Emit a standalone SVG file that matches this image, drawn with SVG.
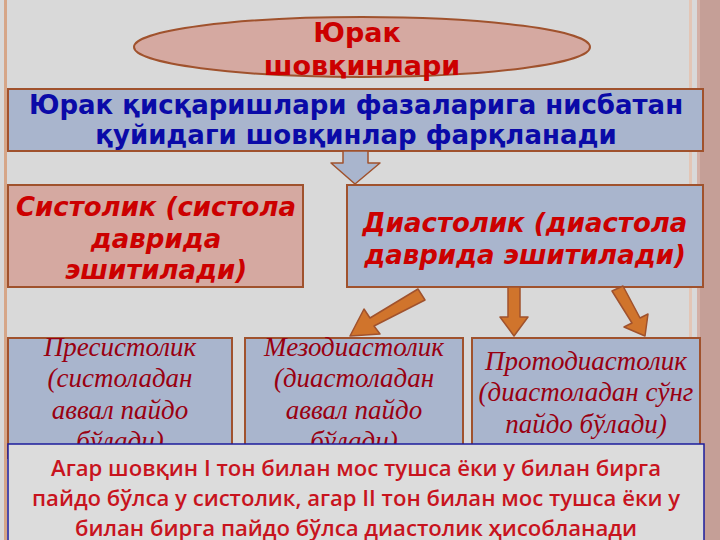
<svg xmlns="http://www.w3.org/2000/svg" width="720" height="540" viewBox="0 0 720 540">
<style>
.bx{stroke:#a0522d;stroke-width:2}
.blue{fill:#a9b5cd}
.rose{fill:#d5a9a1}
.t1{font-family:"DejaVu Sans",sans-serif;font-weight:bold;text-anchor:middle;font-size:26px}
.ti{font-style:italic;fill:#cc0000}
.ts{font-family:"Liberation Serif",serif;font-style:italic;font-size:27px;fill:#990011;text-anchor:middle}
.arr{fill:#d0742c;stroke:#a0522d;stroke-width:1.5;stroke-linejoin:round}
</style>
<rect width="720" height="540" fill="#d9d9d9"/>
<rect x="4" y="0" width="3" height="540" fill="#d6a688"/>
<rect x="689" y="0" width="3" height="540" fill="#e3c6b6"/>
<rect x="697" y="0" width="23" height="540" fill="#c59f97"/>
<rect x="697" y="0" width="3" height="540" fill="#d4b0a6"/>
<g id="title">
<ellipse cx="362" cy="47" rx="228" ry="30" class="rose" stroke="#a0522d" stroke-width="2"/>
<text class="t1" font-size="27" fill="#cc0000" x="357" y="42" style="font-size:27px">Юрак</text>
<text class="t1" fill="#cc0000" x="362" y="75" style="font-size:27px">шовқинлари</text>
</g>
<g id="intro">
<rect x="8" y="89" width="695" height="62" class="bx blue"/>
<text class="t1" fill="#0a0aa8" x="356" y="114">Юрак қисқаришлари фазаларига нисбатан</text>
<text class="t1" fill="#0a0aa8" x="356" y="144">қуйидаги шовқинлар фарқланади</text>
</g>
<g id="systolic">
<rect x="8" y="185" width="295" height="102" class="bx rose"/>
<text class="t1 ti" x="156" y="216">Систолик (систола</text>
<text class="t1 ti" x="156" y="248">даврида</text>
<text class="t1 ti" x="156" y="279">эшитилади)</text>
</g>
<g id="diastolic">
<rect x="347" y="185" width="356" height="102" class="bx blue"/>
<text class="t1 ti" x="525" y="232">Диастолик (диастола</text>
<text class="t1 ti" x="525" y="264">даврида эшитилади)</text>
</g>
<g id="presystolic">
<rect x="8" y="338" width="224" height="120" class="bx blue"/>
<text class="ts" x="120" y="356">Пресистолик</text>
<text class="ts" x="120" y="387">(систоладан</text>
<text class="ts" x="120" y="419">аввал пайдо</text>
<text class="ts" x="120" y="450">бўлади)</text>
</g>
<g id="mesodiastolic">
<rect x="245" y="338" width="218" height="120" class="bx blue"/>
<text class="ts" x="354" y="356">Мезодиастолик</text>
<text class="ts" x="354" y="387">(диастоладан</text>
<text class="ts" x="354" y="419">аввал пайдо</text>
<text class="ts" x="354" y="450">бўлади)</text>
</g>
<g id="protodiastolic">
<rect x="472" y="338" width="228" height="120" class="bx blue"/>
<text class="ts" x="586" y="370">Протодиастолик</text>
<text class="ts" x="586" y="401">(диастоладан сўнг</text>
<text class="ts" x="586" y="433">пайдо бўлади)</text>
</g>
<g id="note">
<rect x="8" y="444" width="696" height="100" fill="#dcdcdc" stroke="#1c1c9c" stroke-width="1.5"/>
<g font-family="'Open Sans',sans-serif" font-weight="600" font-size="22" fill="#c8141e" text-anchor="middle">
<text x="356" y="476" textLength="610" lengthAdjust="spacingAndGlyphs">Агар шовқин I тон билан мос тушса ёки у билан бирга</text>
<text x="356" y="506" textLength="648" lengthAdjust="spacingAndGlyphs">пайдо бўлса у систолик, агар II тон билан мос тушса ёки у</text>
<text x="356" y="536" textLength="562" lengthAdjust="spacingAndGlyphs">билан бирга пайдо бўлса диастолик ҳисобланади</text>
</g>
</g>
<g id="connectors">
<path class="arr" style="fill:#a9b5cd" d="M343,151 L368,151 L368,163 L380,163 L355,184 L331,163 L343,163 Z"/>
<path class="arr" d="M425,300 L418,289 L370,318 L364,309 L350,336 L380,334 L374,326 Z"/>
<path class="arr" d="M508,287 L520,287 L520,317 L528,317 L514,336 L500,317 L508,317 Z"/>
<path class="arr" d="M612,291 L623,286 L640,318 L648,314 L645,336 L624,327 L632,323 Z"/>
</g>
</svg>
